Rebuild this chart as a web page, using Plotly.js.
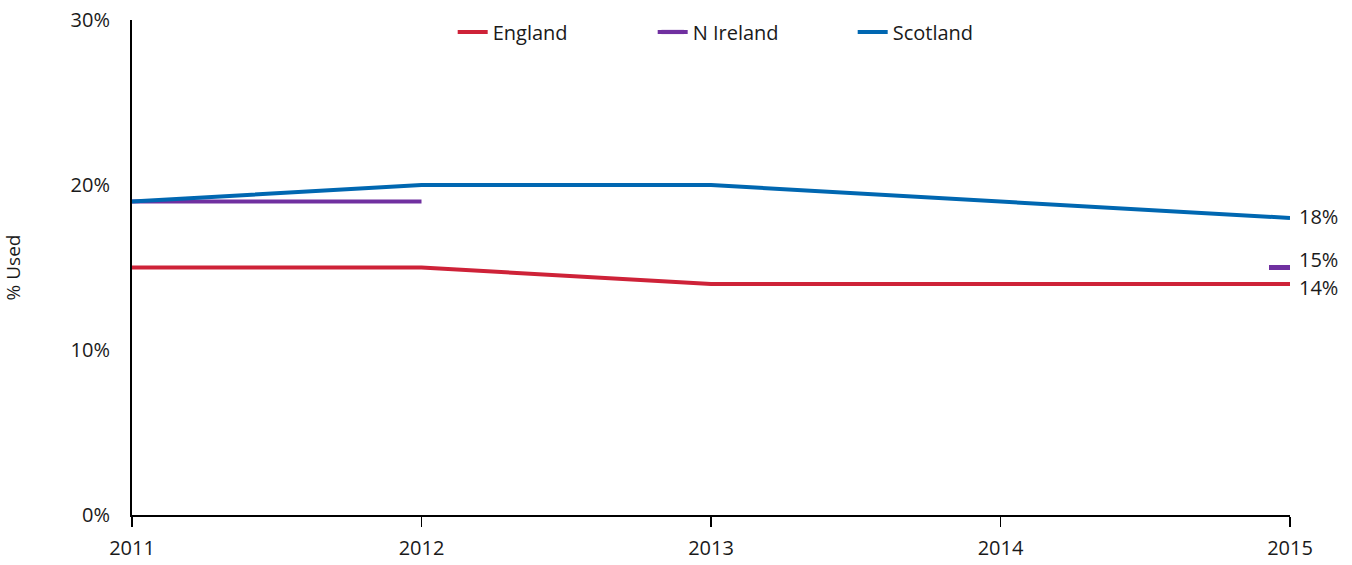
<!DOCTYPE html>
<html>
<head>
<meta charset="utf-8">
<script src="https://cdn.plot.ly/plotly-3.0.1.min.js"></script>
<style>html,body{margin:0;padding:0;background:#fff;}#chart{width:1352px;height:565px;}</style>
</head>
<body>
<div id="chart"></div>
<script>
const years = [2011, 2012, 2013, 2014, 2015];
const england = [15, 15, 14, 14, 14];
const nIreland = [19, 19, null, null, 15];
const scotland = [19, 20, 20, 19, 18];
const seriesNames = ["England", "N Ireland", "Scotland"];
const colors = ["#CE2238", "#7030A0", "#0067B1"];
const yTicks = [0, 10, 20, 30];
const yTickLabels = ["0%", "10%", "20%", "30%"];
const endLabels = ["14%", "15%", "18%"];

const font = "Open Sans, Lato, sans-serif";

const traces = [
  {x: years, y: england, name: seriesNames[0], mode: "lines", line: {color: colors[0], width: 4}, connectgaps: false},
  {x: years, y: nIreland, name: seriesNames[1], mode: "lines+markers", line: {color: colors[1], width: 4},
   marker: {symbol: "line-ew", size: 30, line: {color: colors[1], width: 5}, color: colors[1], opacity: [0,0,0,0,1]}, connectgaps: false},
  {x: years, y: scotland, name: seriesNames[2], mode: "lines", line: {color: colors[2], width: 4}}
];

const last = years.length - 1;
const annotations = [
  {x: years[last], y: england[last], text: endLabels[0], yshift: -3},
  {x: years[last], y: nIreland[last], text: endLabels[1], yshift: 8},
  {x: years[last], y: scotland[last], text: endLabels[2], yshift: 2}
].map(a => Object.assign(a, {xref: "x", yref: "y", xanchor: "left", yanchor: "middle", xshift: 7, showarrow: false, font: {family: font, size: 20, color: "#1a1a1a"}}));

const layout = {
  width: 1352, height: 565,
  margin: {l: 132, r: 62, t: 20, b: 50},
  paper_bgcolor: "#fff", plot_bgcolor: "#fff",
  font: {family: font, size: 20, color: "#1a1a1a"},
  showlegend: true,
  legend: {orientation: "h", x: 0.536, xanchor: "center", y: 0.976, yanchor: "middle",
           entrywidth: 155, font: {family: font, size: 20, color: "#1a1a1a"}, bgcolor: "rgba(0,0,0,0)"},
  xaxis: {range: [2011, 2015], tickvals: years, ticktext: years.map(String), showgrid: false, zeroline: false,
          showline: true, linecolor: "#000", linewidth: 2, ticks: "outside", ticklen: 10, tickwidth: 1.5, tickcolor: "#000",
          ticklabelstandoff: 4, tickfont: {family: font, size: 20, color: "#1a1a1a"}},
  yaxis: {range: [0, 30], tickvals: yTicks, ticktext: yTickLabels, showgrid: false, zeroline: false,
          showline: true, linecolor: "#000", linewidth: 2, ticks: "", ticklabelstandoff: 16,
          tickfont: {family: font, size: 20, color: "#1a1a1a"},
          title: {text: "% Used", font: {family: font, size: 19, color: "#1a1a1a"}, standoff: 50}},
  annotations: annotations
};

Plotly.newPlot("chart", traces, layout, {displayModeBar: false, staticPlot: true});
</script>
</body>
</html>
